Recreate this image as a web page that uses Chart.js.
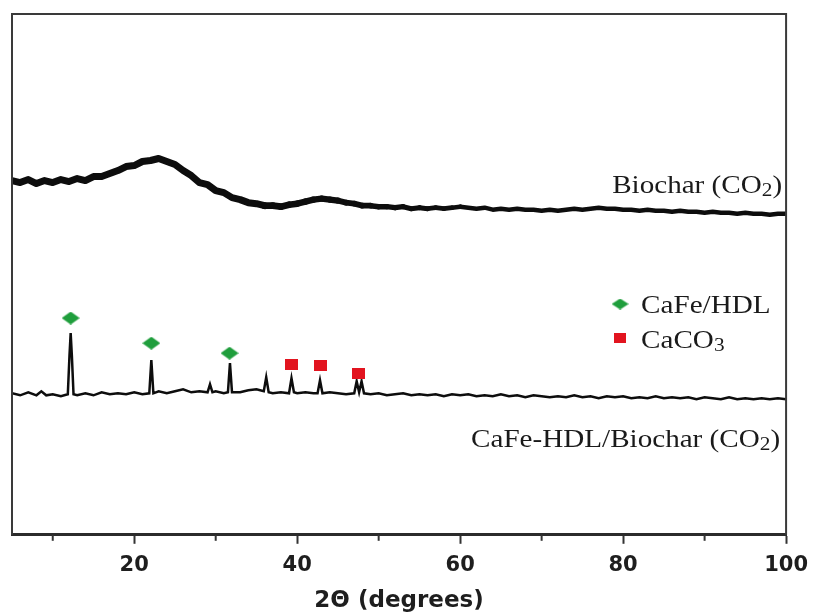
<!DOCTYPE html>
<html>
<head>
<meta charset="utf-8">
<script src="https://cdn.jsdelivr.net/npm/chart.js@4.4.0/dist/chart.umd.min.js"></script>
<style>
  html, body { margin: 0; padding: 0; background: #fff; }
  #wrap { width: 817px; height: 613px; }
</style>
</head>
<body>
<div id="wrap"><canvas id="xrd"></canvas></div>
<script>
// 2theta axis
const xMin = 5;
const xMax = 100;
const majorTicks = [20, 40, 60, 80, 100];
const minorTicks = [10, 30, 50, 70, 90];

// series names / phase names
const seriesNames = ['Biochar (CO₂)', 'CaFe-HDL/Biochar (CO₂)'];
const phaseNames = ['CaFe/HDL', 'CaCO₃'];

// Biochar (CO2) trace (a.u.)
const biocharAngle = [5, 6, 7, 8, 9, 10, 11, 12, 13, 14, 15, 16, 17, 18, 19, 20, 21, 22, 23, 24,
  25, 26, 27, 28, 29, 30, 31, 32, 33, 34, 35, 36, 37, 38, 39, 40, 41, 42, 43, 44,
  45, 46, 47, 48, 49, 50, 51, 52, 53, 54, 55, 56, 57, 58, 59, 60, 61, 62, 63, 64,
  65, 66, 67, 68, 69, 70, 71, 72, 73, 74, 75, 76, 77, 78, 79, 80, 81, 82, 83, 84,
  85, 86, 87, 88, 89, 90, 91, 92, 93, 94, 95, 96, 97, 98, 99, 100];
const biocharIntensity = [353, 351, 354, 350, 353, 351, 354, 352, 355, 353, 357, 357, 360, 363, 367, 368, 372, 373, 375, 372,
  369, 363, 358, 351, 349, 343, 341, 336, 334, 331, 330, 328, 328, 327, 329, 330, 332, 334, 335, 334,
  333, 331, 330, 328, 328, 327, 327, 326, 327, 325, 326, 325, 326, 325, 326, 327, 326, 325, 326, 324,
  325, 324, 325, 324, 324, 323, 324, 323, 324, 325, 324, 325, 326, 325, 325, 324, 324, 323, 324, 323,
  323, 322, 323, 322, 322, 321, 322, 321, 321, 320, 321, 320, 320, 319, 320, 320];

// CaFe-HDL/Biochar (CO2) trace (a.u.)
const cafeAngle = [5, 6, 7, 8, 8.6, 9.2, 10, 11, 11.85, 12.05, 12.2, 12.35, 12.55, 13, 14, 15, 16, 17, 18, 19,
  20, 21, 21.85, 22.1, 22.35, 23, 24, 25, 26, 27, 28, 29, 29.3, 29.6, 30, 31, 31.5, 31.75, 32, 33,
  34, 35, 35.9, 36.2, 36.5, 37, 38, 39, 39.3, 39.6, 40, 41, 42, 42.5, 42.8, 43.1, 44, 45, 46, 47,
  47.3, 47.6, 47.9, 48.2, 49, 50, 51, 52, 53, 54, 55, 56, 57, 58, 59, 60, 61, 62, 63, 64,
  65, 66, 67, 68, 69, 70, 71, 72, 73, 74, 75, 76, 77, 78, 79, 80, 81, 82, 83, 84,
  85, 86, 87, 88, 89, 90, 91, 92, 93, 94, 95, 96, 97, 98, 99, 100];
const cafeIntensity = [141, 139, 142, 139, 143, 139, 140, 138, 140, 178, 201, 178, 140, 139, 141, 139, 142, 140, 141, 140,
  142, 140, 141, 174, 141, 143, 141, 143, 145, 142, 143, 142, 150, 142, 143, 141, 142, 171, 142, 142,
  144, 145, 143, 157, 142, 141, 142, 141, 156, 142, 141, 142, 141, 141, 154, 141, 142, 141, 140, 141,
  153, 142, 153, 141, 140, 141, 139, 140, 141, 139, 140, 139, 140, 138, 140, 139, 140, 138, 139, 138,
  140, 138, 139, 137, 139, 138, 137, 138, 137, 139, 137, 138, 136, 138, 137, 138, 136, 137, 136, 138,
  136, 137, 136, 137, 135, 137, 136, 135, 137, 135, 136, 135, 136, 135, 136, 135];

// phase markers
const hdlAngle = [12.2, 22.1, 31.7];
const hdlIntensity = [216, 191, 181];
const caco3Angle = [39.3, 42.8, 47.5];
const caco3Intensity = [170, 169, 161];

const GREEN = '#1f9e3c';
const RED = '#e2141f';

function diamond(w, h, color) {
  const c = document.createElement('canvas');
  c.width = w; c.height = h;
  const g = c.getContext('2d');
  g.fillStyle = color;
  g.beginPath();
  g.moveTo(w / 2, 0); g.lineTo(w, h / 2); g.lineTo(w / 2, h); g.lineTo(0, h / 2);
  g.closePath();
  g.fill();
  return c;
}

function square(w, h, color) {
  const c = document.createElement('canvas');
  c.width = w; c.height = h;
  const g = c.getContext('2d');
  g.fillStyle = color;
  g.fillRect(0, 0, w, h);
  return c;
}

const hdlMark = diamond(18, 13, GREEN);
const caco3Mark = square(13, 11, RED);
const hdlLegend = diamond(17, 11, GREEN);
const caco3Legend = square(12, 10, RED);

function toPoints(xs, ys) {
  return xs.map((x, i) => ({ x: x, y: ys[i] }));
}

// the biochar trace looks thicker (noisier) at low angles
function biocharWidth(c) {
  const x = c.p0.parsed.x;
  if (x <= 35) return 7;
  if (x >= 60) return 4.5;
  return 7 - (x - 35) * 0.1;
}

// split text into normal / subscript parts (₀-₉)
function splitSub(str) {
  const parts = [];
  for (const ch of str) {
    const code = ch.charCodeAt(0);
    const sub = code >= 0x2080 && code <= 0x2089;
    const t = sub ? String(code - 0x2080) : ch;
    const last = parts[parts.length - 1];
    if (last && last.sub === sub) last.t += t;
    else parts.push({ t: t, sub: sub });
  }
  return parts;
}

const SERIF = 26;
const SUB = 19;
const STRETCH = 1.12;

function richWidth(ctx, parts) {
  let w = 0;
  parts.forEach(p => {
    ctx.font = (p.sub ? SUB : SERIF) + 'px "Liberation Serif", "Times New Roman", serif';
    w += ctx.measureText(p.t).width;
  });
  return w;
}

function drawRich(ctx, str, x, y, align) {
  const parts = splitSub(str);
  ctx.save();
  ctx.translate(x, y);
  ctx.scale(STRETCH, 1);
  let cx = align === 'right' ? -richWidth(ctx, parts) : 0;
  ctx.fillStyle = '#1a1a1a';
  ctx.textBaseline = 'alphabetic';
  ctx.textAlign = 'left';
  parts.forEach(p => {
    ctx.font = (p.sub ? SUB : SERIF) + 'px "Liberation Serif", "Times New Roman", serif';
    ctx.fillText(p.t, cx, p.sub ? 3 : 0);
    cx += ctx.measureText(p.t).width;
  });
  ctx.restore();
}

const frame = {
  id: 'frame',
  afterDraw(chart) {
    const { ctx, chartArea: a, scales } = chart;
    const xs = scales.x;
    ctx.save();
    // left, top, right frame
    ctx.strokeStyle = '#3a3a3a';
    ctx.lineWidth = 2;
    ctx.beginPath();
    ctx.moveTo(a.left, a.bottom);
    ctx.lineTo(a.left, a.top);
    ctx.lineTo(a.right, a.top);
    ctx.lineTo(a.right, a.bottom);
    ctx.stroke();
    // minor ticks
    ctx.strokeStyle = '#333';
    ctx.lineWidth = 2;
    minorTicks.forEach(v => {
      const px = xs.getPixelForValue(v);
      ctx.beginPath();
      ctx.moveTo(px, a.bottom);
      ctx.lineTo(px, a.bottom + 6);
      ctx.stroke();
    });
    ctx.restore();

    // trace labels
    drawRich(ctx, seriesNames[0], a.right - 4, 193, 'right');
    drawRich(ctx, seriesNames[1], a.right - 6, 447, 'right');

    // legend for phases
    const lx = a.right - 166;
    ctx.drawImage(hdlLegend, lx - hdlLegend.width / 2, 304 - hdlLegend.height / 2);
    ctx.drawImage(caco3Legend, lx - caco3Legend.width / 2, 338 - caco3Legend.height / 2);
    drawRich(ctx, phaseNames[0], lx + 21, 313, 'left');
    drawRich(ctx, phaseNames[1], lx + 21, 348, 'left');
  }
};

new Chart(document.getElementById('xrd'), {
  type: 'line',
  data: {
    datasets: [
      {
        label: phaseNames[0],
        data: toPoints(hdlAngle, hdlIntensity),
        showLine: false,
        pointStyle: hdlMark,
        pointRadius: 8,
        order: 0
      },
      {
        label: phaseNames[1],
        data: toPoints(caco3Angle, caco3Intensity),
        showLine: false,
        pointStyle: caco3Mark,
        pointRadius: 7,
        order: 0
      },
      {
        label: seriesNames[0],
        data: toPoints(biocharAngle, biocharIntensity),
        borderColor: '#0d0d0d',
        borderWidth: 6,
        borderJoinStyle: 'round',
        borderCapStyle: 'round',
        segment: { borderWidth: biocharWidth },
        pointRadius: 0,
        tension: 0,
        order: 1
      },
      {
        label: seriesNames[1],
        data: toPoints(cafeAngle, cafeIntensity),
        borderColor: '#0d0d0d',
        borderWidth: 2.5,
        pointRadius: 0,
        tension: 0,
        order: 1
      }
    ]
  },
  options: {
    responsive: true,
    maintainAspectRatio: false,
    animation: false,
    events: [],
    layout: { padding: { left: 12, top: 14, right: 24, bottom: 0 } },
    plugins: {
      legend: { display: false },
      tooltip: { enabled: false }
    },
    scales: {
      x: {
        type: 'linear',
        min: xMin,
        max: xMax,
        afterBuildTicks: scale => { scale.ticks = majorTicks.map(v => ({ value: v })); },
        grid: {
          display: true,
          drawOnChartArea: false,
          drawTicks: true,
          tickLength: 9,
          tickWidth: 2,
          tickColor: '#333'
        },
        border: { display: true, width: 3, color: '#2b2b2b' },
        ticks: {
          color: '#1e1e1e',
          padding: 9,
          maxRotation: 0,
          font: { family: '"DejaVu Sans", sans-serif', weight: 'bold', size: 21 }
        },
        title: {
          display: true,
          text: '2Θ (degrees)',
          color: '#1e1e1e',
          padding: { top: 3, bottom: 0 },
          font: { family: '"DejaVu Sans", sans-serif', weight: 'bold', size: 23, lineHeight: 1 }
        }
      },
      y: {
        display: false,
        min: 0,
        max: 519
      }
    }
  },
  plugins: [frame]
});
</script>
</body>
</html>
